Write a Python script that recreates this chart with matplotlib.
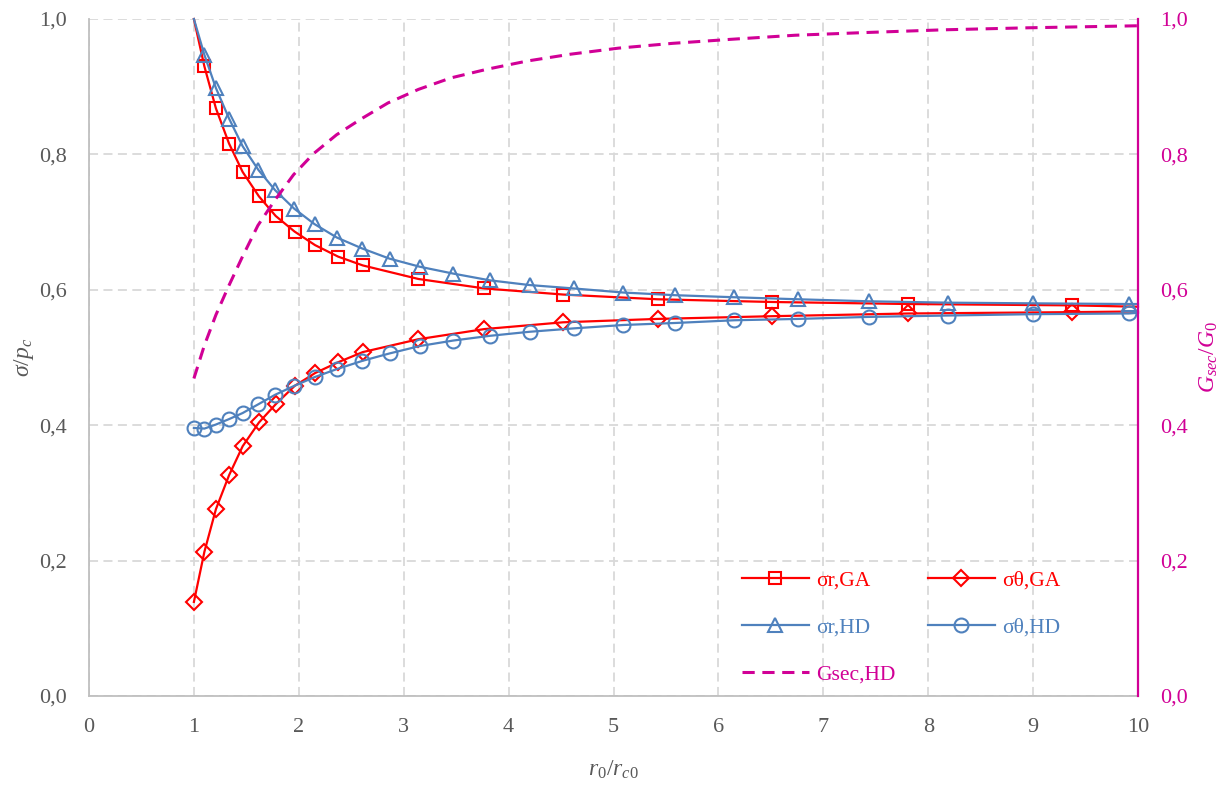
import matplotlib
matplotlib.use("Agg")
import matplotlib.pyplot as plt
from matplotlib.ticker import FuncFormatter, MultipleLocator

plt.rcParams['font.family'] = ['Liberation Serif', 'DejaVu Serif']
plt.rcParams['mathtext.fontset'] = 'custom'
plt.rcParams['mathtext.rm'] = 'Liberation Serif'
plt.rcParams['mathtext.it'] = 'Liberation Serif:italic'

# GA solution (markers at every point except the end ones noted below)
x_ga = [1.0, 1.1, 1.21, 1.335, 1.465, 1.62, 1.78, 1.96, 2.155, 2.375, 2.61,
        3.14, 3.77, 4.52, 5.42, 6.51, 7.81, 9.37, 10.0]
sr_ga = [1.0, 0.930, 0.868, 0.816, 0.774, 0.738, 0.709, 0.686, 0.666, 0.649, 0.636,
         0.616, 0.602, 0.593, 0.586, 0.582, 0.579, 0.577, 0.575]
st_ga = [0.139, 0.213, 0.276, 0.326, 0.369, 0.404, 0.431, 0.458, 0.477, 0.493, 0.508,
         0.527, 0.542, 0.552, 0.557, 0.561, 0.565, 0.567, 0.568]

# HD solution
x_hd = [1.0, 1.1, 1.21, 1.335, 1.465, 1.615, 1.775, 1.955, 2.15, 2.365, 2.605,
        2.865, 3.155, 3.47, 3.82, 4.2, 4.62, 5.09, 5.59, 6.15, 6.76, 7.44, 8.19,
        9.0, 9.91, 10.0]
sr_hd = [1.0, 0.947, 0.898, 0.853, 0.812, 0.777, 0.747, 0.720, 0.697, 0.677, 0.661,
         0.646, 0.634, 0.624, 0.614, 0.607, 0.602, 0.596, 0.592, 0.589, 0.586, 0.583, 0.581,
         0.580, 0.579, 0.579]
st_hd = [0.396, 0.395, 0.401, 0.409, 0.418, 0.431, 0.445, 0.458, 0.471, 0.483, 0.495,
         0.506, 0.517, 0.525, 0.532, 0.538, 0.543, 0.548, 0.551, 0.555, 0.557, 0.560, 0.562,
         0.564, 0.565, 0.566]

# secant shear modulus ratio (right axis)
x_g = [1.0, 1.1, 1.21, 1.33, 1.46, 1.61, 1.77, 1.95, 2.14, 2.36, 2.59, 2.85, 3.14,
       3.45, 3.8, 4.18, 4.59, 5.05, 5.56, 6.12, 6.73, 7.4, 8.14, 8.95, 10.0]
g_hd = [0.469, 0.518, 0.563, 0.605, 0.648, 0.695, 0.732, 0.770, 0.801, 0.829, 0.852,
        0.876, 0.896, 0.913, 0.926, 0.938, 0.948, 0.957, 0.964, 0.970, 0.976, 0.980,
        0.984, 0.987, 0.990]

RED = '#FF0000'
BLUE = '#4F81BD'
MAG = '#D10096'
GRAY = '#595959'
GRID = '#D9D9D9'

fig = plt.figure(figsize=(12.27, 7.87), dpi=100)
ax = fig.add_axes([89 / 1227, 1 - 696 / 787, (1138 - 89) / 1227, (696 - 19) / 787])
ax2 = ax.twinx()

mk = dict(fillstyle='none', markeredgewidth=1.5, linewidth=1.6, clip_on=False)
h1, = ax.plot(x_ga, sr_ga, color=RED, marker='s', markersize=9,
              markevery=list(range(1, len(x_ga) - 1)), label='σr,GA', **mk)
h2, = ax.plot(x_ga, st_ga, color=RED, marker='D', markersize=8.5,
              markevery=list(range(0, len(x_ga) - 1)), label='σθ,GA', **mk)
h3, = ax.plot(x_hd, sr_hd, color=BLUE, marker='^', markersize=10.5,
              markevery=list(range(1, len(x_hd) - 1)), label='σr,HD', **mk)
h4, = ax.plot(x_hd, st_hd, color=BLUE, marker='o', markersize=10,
              markevery=list(range(0, len(x_hd) - 1)), label='σθ,HD', **mk)
h5, = ax2.plot(x_g, g_hd, color=MAG, linestyle=(0, (4, 2.5)), linewidth=2.2,
               label='Gsec,HD')

fmt = FuncFormatter(lambda v, p: f'{v:.1f}'.replace('.', ','))
for a in (ax, ax2):
    a.set_xlim(0, 10)
    a.set_ylim(0, 1.0)
    a.yaxis.set_major_locator(MultipleLocator(0.2))
    a.yaxis.set_major_formatter(fmt)

ax.xaxis.set_major_locator(MultipleLocator(1))
ax.grid(True, color=GRID, linestyle=(0, (5, 3)), linewidth=1.3)
ax.set_axisbelow(True)
ax.tick_params(length=0, labelsize=16, labelcolor=GRAY)
ax.tick_params(axis='x', pad=16)
ax.tick_params(axis='y', pad=16)
for s in ('top', 'right'):
    ax.spines[s].set_visible(False)
for s in ('left', 'bottom'):
    ax.spines[s].set_color('#BFBFBF')
    ax.spines[s].set_linewidth(1.3)

for s in ('top', 'left', 'bottom'):
    ax2.spines[s].set_visible(False)
ax2.spines['right'].set_color(MAG)
ax2.spines['right'].set_linewidth(1.6)
ax2.tick_params(length=0, labelsize=16, labelcolor=MAG, pad=16)

ax.set_xlabel(r'$\mathit{r_0/r_{c0}}$', fontsize=17, color=GRAY)
ax.set_ylabel(r'$\mathit{\sigma/p_c}$', fontsize=17, color=GRAY)
ax2.set_ylabel(r'$\mathit{G_{sec}/G_0}$', fontsize=17, color=MAG)
ax.xaxis.set_label_coords(0.5, -0.092)
ax.yaxis.set_label_coords(-0.051, 0.5)
ax2.yaxis.set_label_coords(1.057, 0.5)

leg = fig.legend(handles=[h1, h3, h5, h2, h4], ncol=2, frameon=False,
                 loc='upper left', bbox_to_anchor=(727 / 1227, 1 - 555 / 787),
                 fontsize=15.5, handlelength=3.1, handletextpad=0.35,
                 columnspacing=1.5, labelspacing=1.25, borderpad=0.2,
                 labelcolor='linecolor')

fig.savefig('out.png', dpi=100)
